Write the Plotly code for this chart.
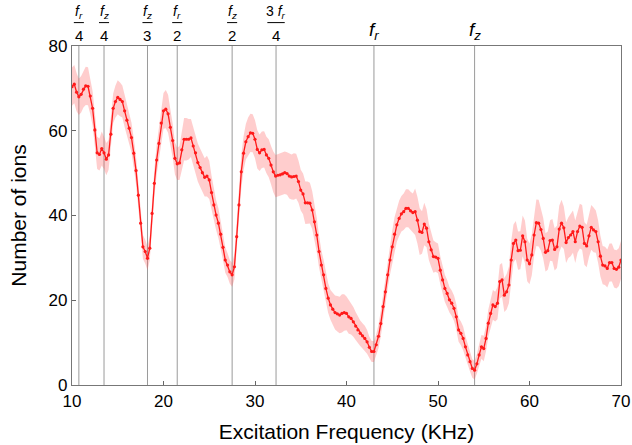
import numpy as np
import plotly.graph_objects as go

# Sweep grid (kHz): 10 ... 70 in 0.25 kHz steps
FREQ_START, FREQ_STOP, FREQ_STEP = 10.0, 70.0, 0.25
freq_khz = np.arange(FREQ_START, FREQ_STOP + FREQ_STEP / 2, FREQ_STEP)

# Mean number of ions, one row per kHz
ions_mean = [
    70.4, 71.0, 69.1, 68.0,   # 10
    68.6, 69.8, 70.6, 70.5,   # 11
    68.2, 65.3, 60.2, 54.8,   # 12
    54.4, 55.8, 54.8, 53.3,   # 13
    54.3, 59.2, 65.3, 66.9,   # 14
    67.9, 67.4, 66.9, 64.7,   # 15
    62.5, 60.6, 58.4, 54.7,   # 16
    50.6, 44.8, 38.2, 32.6,   # 17
    31.5, 29.9, 32.3, 40.5,   # 18
    47.6, 53.1, 57.0, 61.8,   # 19
    64.7, 65.1, 64.0, 60.8,   # 20
    57.7, 53.5, 52.2, 52.4,   # 21
    55.5, 58.0, 58.0, 58.0,   # 22
    58.3, 56.4, 54.8, 52.5,   # 23
    51.3, 50.1, 49.0, 49.3,   # 24
    48.4, 45.4, 42.5, 40.1,   # 25
    38.2, 35.6, 32.5, 29.5,   # 26
    28.3, 26.7, 26.0, 27.9,   # 27
    35.0, 42.5, 50.3, 54.7,   # 28
    57.4, 58.6, 59.5, 59.4,   # 29
    58.0, 55.6, 54.8, 55.5,   # 30
    55.6, 54.3, 53.5, 51.9,   # 31
    50.3, 49.3, 49.5, 49.6,   # 32
    49.8, 50.1, 49.9, 49.3,   # 33
    49.1, 49.2, 49.3, 48.0,   # 34
    46.0, 45.1, 43.0, 43.0,   # 35
    42.9, 41.3, 38.5, 35.4,   # 36
    31.5, 28.3, 26.0, 22.8,   # 37
    20.5, 18.9, 17.9, 17.1,   # 38
    16.8, 16.5, 16.9, 17.1,   # 39
    16.9, 16.1, 15.7, 14.9,   # 40
    13.9, 13.0, 12.2, 11.6,   # 41
    11.0, 10.2, 8.9, 7.9,     # 42
    7.9, 9.5, 11.5, 14.5,     # 43
    18.5, 22.0, 26.0, 29.5,   # 44
    32.6, 35.6, 37.8, 39.3,   # 45
    40.4, 40.9, 41.7, 41.7,   # 46
    41.1, 40.7, 40.9, 38.9,   # 47
    36.2, 36.0, 38.0, 37.0,   # 48
    33.8, 31.9, 30.3, 30.2,   # 49
    29.9, 27.1, 24.8, 22.8,   # 50
    21.6, 20.1, 19.3, 18.1,   # 51
    16.1, 13.0, 12.2, 11.0,   # 52
    9.0, 7.1, 5.5, 3.9,       # 53
    3.5, 5.0, 7.1, 9.0,       # 54
    8.6, 11.0, 14.6, 16.9,    # 55
    18.9, 18.5, 19.3, 24.4,   # 56
    24.8, 21.2, 22.0, 23.6,   # 57
    29.5, 33.4, 34.2, 31.7,   # 58
    31.8, 35.2, 33.8, 29.5,   # 59
    28.6, 30.7, 35.4, 38.3,   # 60
    38.2, 36.7, 34.6, 31.3,   # 61
    31.7, 34.1, 34.2, 32.0,   # 62
    32.6, 36.8, 38.2, 37.1,   # 63
    33.6, 34.8, 35.4, 36.2,   # 64
    33.8, 36.2, 37.5, 37.2,   # 65
    33.4, 32.8, 35.2, 37.2,   # 66
    36.6, 36.2, 33.8, 30.4,   # 67
    28.3, 28.1, 27.5, 28.9,   # 68
    28.9, 27.5, 27.3, 27.8,   # 69
    29.5,                     # 70
]

# Half-width of the shaded uncertainty band
ions_err = [
    4.5, 4.5, 4.5, 4.3,  4.3, 4.3, 4.5, 4.5,  4.3, 4.0, 4.0, 3.8,
    3.8, 4.0, 3.8, 3.8,  3.5, 3.5, 3.5, 3.8,  4.0, 4.0, 3.8, 3.8,
    3.8, 3.8, 3.5, 3.5,  3.3, 3.0, 3.0, 2.8,  2.8, 2.8, 2.8, 3.0,
    3.2, 3.5, 3.8, 4.0,  4.2, 4.5, 4.5, 4.2,  4.0, 3.8, 3.8, 4.0,
    4.5, 5.0, 5.0, 4.8,  4.5, 4.5, 4.5, 4.5,  4.5, 4.5, 4.5, 4.8,
    4.5, 4.0, 3.8, 3.5,  3.5, 3.3, 3.0, 3.0,  2.8, 2.8, 2.8, 3.0,
    3.5, 4.0, 4.0, 4.0,  4.2, 4.5, 4.5, 4.5,  4.5, 4.5, 4.3, 4.3,
    4.3, 4.3, 4.5, 4.5,  4.8, 5.0, 5.0, 5.0,  5.0, 5.0, 5.0, 5.3,
    5.3, 5.5, 5.3, 5.0,  4.8, 4.8, 5.0, 5.0,  4.8, 4.5, 4.3, 4.0,
    3.8, 3.5, 3.5, 3.5,  3.5, 3.5, 3.8, 4.0,  4.2, 4.3, 4.5, 4.3,
    4.0, 4.0, 3.8, 3.5,  3.3, 3.2, 3.0, 3.0,  3.0, 2.8, 2.5, 2.5,
    2.5, 2.5, 2.8, 3.0,  3.0, 3.2, 3.3, 3.5,  3.8, 4.0, 4.0, 4.2,
    4.2, 4.3, 4.5, 4.5,  4.5, 4.5, 5.5, 5.5,  5.5, 5.0, 5.0, 4.5,
    4.3, 4.0, 3.8, 3.5,  3.5, 3.3, 3.3, 3.2,  3.2, 3.0, 3.0, 3.0,
    3.0, 2.8, 2.8, 2.8,  2.5, 2.5, 2.3, 2.2,  2.2, 2.3, 2.5, 2.8,
    3.0, 3.0, 3.2, 3.3,  3.5, 3.5, 3.8, 4.0,  4.0, 4.0, 4.2, 4.3,
    4.5, 4.5, 4.5, 4.5,  4.5, 4.8, 5.0, 5.0,  4.8, 4.8, 5.0, 5.5,
    5.5, 5.0, 4.8, 4.5,  4.5, 4.8, 5.0, 5.0,  5.0, 5.5, 5.5, 5.0,
    4.8, 4.8, 5.0, 5.0,  5.0, 5.0, 5.3, 5.3,  5.0, 5.0, 5.0, 5.3,
    5.3, 5.0, 5.0, 4.8,  4.5, 4.5, 4.5, 4.5,  4.5, 4.5, 4.5, 4.5,
    4.5,
]

# Resonance markers: frequency (kHz), numerator, denominator
marker_freqs = [10.75, 13.5, 18.25, 21.5, 27.5, 32.3]
marker_nums = ["<i>f<sub>r</sub></i>", "<i>f<sub>z</sub></i>", "<i>f<sub>z</sub></i>",
               "<i>f<sub>r</sub></i>", "<i>f<sub>z</sub></i>", "3 <i>f<sub>r</sub></i>"]
marker_dens = ["4", "4", "3", "2", "2", "4"]
main_freqs = [43.0, 54.0]
main_labels = ["<i>f<sub>r</sub></i>", "<i>f<sub>z</sub></i>"]

x_ticks = [10, 20, 30, 40, 50, 60, 70]
y_ticks = [0, 20, 40, 60, 80]

mean = np.array(ions_mean)
err = np.array(ions_err)
upper = mean + err
lower = mean - err

FONT = "Liberation Sans, Arial, sans-serif"
RED = "#ff1a1a"

fig = go.Figure()
fig.add_trace(go.Scatter(x=freq_khz, y=upper, mode="lines", line=dict(width=0),
                         hoverinfo="skip", showlegend=False))
fig.add_trace(go.Scatter(x=freq_khz, y=lower, mode="lines", line=dict(width=0),
                         fill="tonexty", fillcolor="rgba(255,90,90,0.30)",
                         hoverinfo="skip", showlegend=False))
fig.add_trace(go.Scatter(x=freq_khz, y=mean, mode="lines+markers",
                         line=dict(color=RED, width=1.3),
                         marker=dict(color=RED, size=3.2),
                         showlegend=False))

shapes = []
for f in marker_freqs + main_freqs:
    shapes.append(dict(type="line", xref="x", yref="paper", x0=f, x1=f, y0=0, y1=1,
                       line=dict(color="#9a9a9a", width=1), layer="below"))

annotations = []
for f, num, den in zip(marker_freqs, marker_nums, marker_dens):
    annotations.append(dict(x=f, y=1.10, xref="x", yref="paper", text=num,
                            showarrow=False, font=dict(family=FONT, size=14, color="black"),
                            xanchor="center", yanchor="middle"))
    annotations.append(dict(x=f, y=1.03, xref="x", yref="paper", text=den,
                            showarrow=False, font=dict(family=FONT, size=15, color="black"),
                            xanchor="center", yanchor="middle"))
    w = 0.95 if num.startswith("3") else 0.55
    shapes.append(dict(type="line", xref="x", yref="paper", x0=f - w, x1=f + w,
                       y0=1.069, y1=1.069, line=dict(color="black", width=1)))
for f, lab in zip(main_freqs, main_labels):
    annotations.append(dict(x=f, y=1.045, xref="x", yref="paper", text=lab,
                            showarrow=False, font=dict(family=FONT, size=19, color="black"),
                            xanchor="center", yanchor="middle"))

fig.update_layout(
    width=632, height=445,
    margin=dict(l=72, r=11, t=46, b=60),
    paper_bgcolor="white", plot_bgcolor="white",
    font=dict(family=FONT, color="black"),
    shapes=shapes, annotations=annotations,
    xaxis=dict(range=[10, 70], tickvals=x_ticks, ticks="inside", ticklen=4,
               tickcolor="#666", showline=True, linecolor="#777", linewidth=1.2,
               mirror=True, showgrid=False, zeroline=False, automargin=False,
               tickfont=dict(size=17),
               title=dict(text="Excitation Frequency (KHz)", font=dict(size=21), standoff=14)),
    yaxis=dict(range=[0, 80], tickvals=y_ticks, ticks="inside", ticklen=4,
               tickcolor="#666", showline=True, linecolor="#777", linewidth=1.2,
               mirror=True, showgrid=False, zeroline=False, automargin=False,
               tickfont=dict(size=17),
               title=dict(text="Number of ions", font=dict(size=21), standoff=16)),
)

fig.write_html("out.html", config={"displayModeBar": False},
               post_script="document.body.style.margin='0';document.body.style.overflow='hidden';")
